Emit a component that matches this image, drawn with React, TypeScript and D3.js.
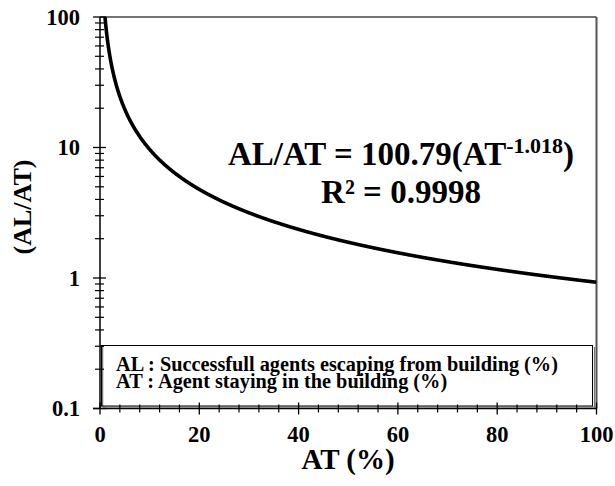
import React from "react";
import * as d3 from "d3";

// Fitted power law: AL/AT = a * AT^b
const fitA = 100.79;
const fitB = -1.018;
const rSquared = "0.9998";

const xDomain = [0, 100];
const yDomain = [0.1, 100];
const xMajorTicks = [0, 20, 40, 60, 80, 100];
const yMajorTicks = [0.1, 1, 10, 100];
const yTickLabels = ["0.1", "1", "10", "100"];
const legendLines = [
  "AL : Successfull agents escaping from building (%)",
  "AT : Agent staying in the building (%)",
];

const W = 615;
const H = 486;
const left = 100;
const right = 596.5;
const top = 17;
const bottom = 408.5;
const serif: React.CSSProperties = {
  fontFamily: '"Liberation Serif", "Times New Roman", Times, "DejaVu Serif", serif',
  fontWeight: 700,
};

export default function App() {
  const x = d3.scaleLinear().domain(xDomain).range([left, right]);
  const y = d3.scaleLog().domain(yDomain).range([bottom, top]);

  const xMinor = d3.range(0, 100.001, 4).filter((v) => v % 20 !== 0);
  const yMinor: number[] = [];
  for (const d of [0.1, 1, 10]) for (let k = 2; k <= 9; k++) yMinor.push(d * k);

  const xs = d3.range(0.5, 100.0001, 0.1);
  const line = d3
    .line<number>()
    .x((v) => x(v))
    .y((v) => y(fitA * Math.pow(v, fitB)))
    .curve(d3.curveMonotoneX);

  return (
    <svg width={W} height={H} style={{ position: "absolute", left: 0, top: 0, background: "#fff" }}>
      <defs>
        <clipPath id="plot">
          <rect x={left} y={top} width={right - left} height={bottom - top} />
        </clipPath>
      </defs>

      {/* frame */}
      <line x1={left} y1={top} x2={right} y2={top} stroke="#444" strokeWidth={1.5} />
      <line x1={right} y1={top} x2={right} y2={bottom} stroke="#555" strokeWidth={2} />

      {/* fitted curve */}
      <path d={line(xs) || ""} fill="none" stroke="#000" strokeWidth={3.6} clipPath="url(#plot)" />

      {/* legend box */}
      <line x1={594.5} y1={347} x2={594.5} y2={407.5} stroke="#777" strokeWidth={1.2} />
      <line x1={103} y1={407} x2={594.5} y2={407} stroke="#777" strokeWidth={1.2} />
      <line x1={102.5} y1={346} x2={102.5} y2={407} stroke="#777" strokeWidth={1.5} />
      <rect x={101.5} y={345.5} width={491} height={60.5} fill="none" stroke="#000" strokeWidth={1} />
      {legendLines.map((t, i) => (
        <text key={t} x={116} y={370.5 + i * 17.5} style={serif} fontSize={20.3} fill="#000">
          {t}
        </text>
      ))}

      {/* y axis */}
      <line x1={left} y1={top} x2={left} y2={bottom} stroke="#000" strokeWidth={1.5} />
      {yMajorTicks.map((v, i) => (
        <g key={v}>
          <line x1={left - 7} x2={left + 6} y1={y(v)} y2={y(v)} stroke="#000" strokeWidth={1.3} />
          <text x={80} y={y(v) + 7.5} textAnchor="end" style={serif} fontSize={22.5}>
            {yTickLabels[i]}
          </text>
        </g>
      ))}
      {yMinor.map((v) => (
        <line key={v} x1={left - 5} x2={left + 4} y1={y(v)} y2={y(v)} stroke="#000" strokeWidth={1.2} />
      ))}

      {/* x axis */}
      <line x1={left - 7} y1={bottom} x2={right} y2={bottom} stroke="#000" strokeWidth={1.5} />
      {xMajorTicks.map((v) => (
        <g key={v}>
          <line x1={x(v)} x2={x(v)} y1={bottom - 6} y2={bottom + 6} stroke="#000" strokeWidth={1.3} />
          <text x={x(v)} y={442} textAnchor="middle" style={serif} fontSize={22.5}>
            {v}
          </text>
        </g>
      ))}
      {xMinor.map((v) => (
        <line key={v} x1={x(v)} x2={x(v)} y1={bottom - 4} y2={bottom + 4} stroke="#000" strokeWidth={1.2} />
      ))}

      {/* axis titles */}
      <text x={348} y={469} textAnchor="middle" style={serif} fontSize={29}>
        AT (%)
      </text>
      <text transform="translate(31,207) rotate(-90)" textAnchor="middle" style={serif} fontSize={26}>
        (AL/AT)
      </text>

      {/* fit annotation */}
      <text x={401} y={165} textAnchor="middle" style={serif} fontSize={33}>
        <tspan>{`AL/AT = ${fitA}(AT`}</tspan>
        <tspan fontSize={22} dy={-12}>{fitB.toFixed(3)}</tspan>
        <tspan dy={12}>)</tspan>
      </text>
      <text x={401} y={203} textAnchor="middle" style={serif} fontSize={33}>
        {`R² = ${rSquared}`}
      </text>
    </svg>
  );
}
